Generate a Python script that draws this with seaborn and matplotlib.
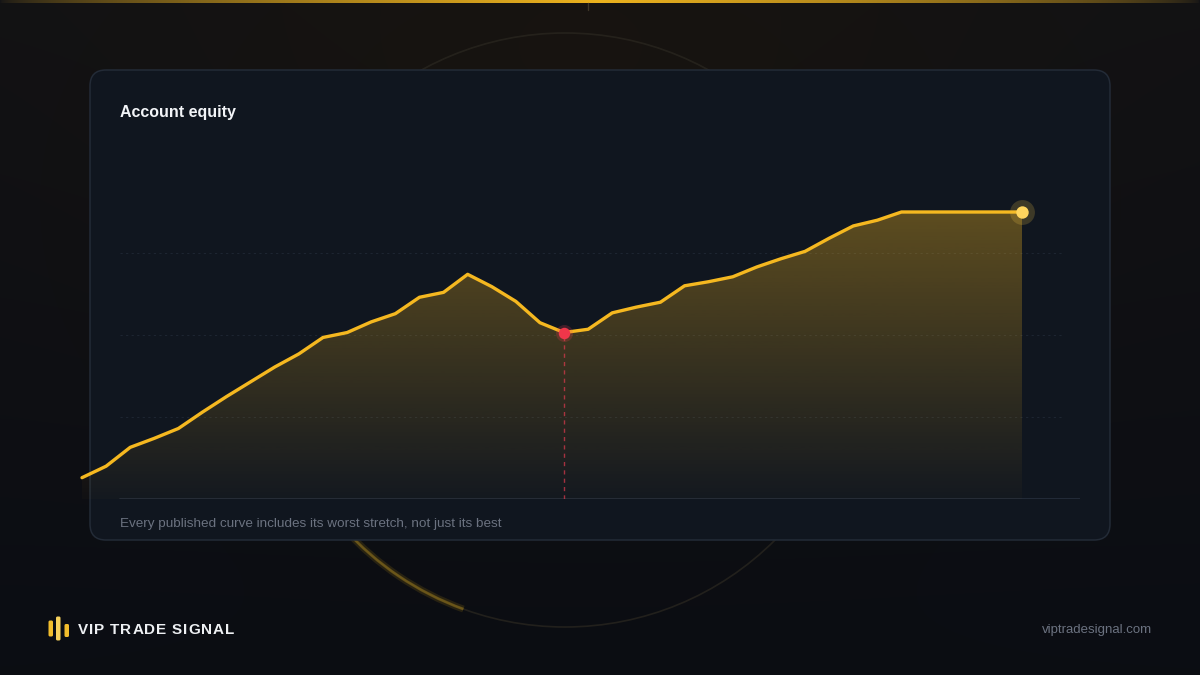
import numpy as np
import pandas as pd
import matplotlib.pyplot as plt
import seaborn as sns
from matplotlib.patches import FancyBboxPatch, Circle, Arc, Polygon

# equity curve (arbitrary units, baseline = 0)
steps = list(range(40))
equity = [2.6, 4.0, 6.3, 7.4, 8.6, 10.6, 12.5, 14.3, 16.1, 17.7,
          19.7, 20.3, 21.6, 22.6, 24.6, 25.2, 27.4, 25.9, 24.1, 21.5,
          20.3, 20.7, 22.7, 23.4, 24.0, 26.0, 26.5, 27.1, 28.3, 29.3,
          30.2, 31.8, 33.3, 34.0, 35.0, 35.0, 35.0, 35.0, 35.0, 35.0]
grid_levels = [10, 20, 30]
title = "Account equity"
caption = "Every published curve includes its worst stretch, not just its best"
brand = "VIP TRADE SIGNAL"
site = "viptradesignal.com"

GOLD = "#f5b820"

sns.set_theme(style="dark")
plt.rcParams['font.family'] = ['Liberation Sans', 'DejaVu Sans']

df = pd.DataFrame({"step": steps, "equity": equity})
eq = np.array(equity)
trough = int(np.argmin(eq - np.maximum.accumulate(eq)))

fig = plt.figure(figsize=(12, 6.75), dpi=100)
fig.patch.set_facecolor("#0c0f15")

# ---- background layer in pixel coords ----
bg = fig.add_axes([0, 0, 1, 1])
yy, xx = np.mgrid[0:675, 0:1200]
t = (yy / 675)[..., None]
img = np.array([18, 18, 20]) / 255 * (1 - t) + np.array([11, 13, 19]) / 255 * t
glow = np.exp(-(((xx - 580) / 420) ** 2 + ((yy - 120) / 280) ** 2))[..., None]
img = np.clip(img + glow * np.array([6, 2, -4]) / 255, 0, 1)
bg.imshow(img, extent=[0, 1200, 675, 0], aspect='auto', zorder=0)

# top gold strip
bar = np.linspace(-1, 1, 1200)
w = (np.clip(1 - np.abs(bar), 0, 1) ** 0.6)[None, :, None]
strip = np.array([20, 20, 22]) / 255 * (1 - w) + np.array([236, 178, 30]) / 255 * w
strip = np.repeat(strip, 4, axis=0)
bg.imshow(strip, extent=[0, 1200, 3.2, 0], aspect='auto', zorder=1)
bg.plot([588, 588], [3, 10], color="#3e3628", lw=1, zorder=1)

# decorative ring behind the card
bg.add_patch(Circle((565, 330), 297, fill=False, ec="#2a2720", lw=1.2, alpha=0.75, zorder=1))
bg.add_patch(Arc((565, 330), 594, 594, theta1=110, theta2=138, ec="#a88416", lw=5, alpha=0.18, zorder=1))
bg.add_patch(Arc((565, 330), 594, 594, theta1=110, theta2=138, ec="#c89c1c", lw=2, alpha=0.35, zorder=1))

# card
bg.add_patch(FancyBboxPatch((90, 70), 1020, 470, boxstyle="round,pad=0,rounding_size=16",
                            fc="#10161f", ec="#232b37", lw=1.1, zorder=2))

bg.text(120, 112, title, fontsize=11.5, weight='bold', color='#f2f4f7', va='center', zorder=3)
bg.text(120, 523.5, caption, fontsize=9.7, color='#6b7280', va='center', zorder=3)

# footer logo
for x0, y0, bw, bh, c in [(48.5, 620.5, 4.5, 16, "#f2bd2c"), (56, 616.5, 4.5, 24, "#f7d15c"),
                          (64.5, 624, 4.5, 13, "#f2bd2c")]:
    bg.add_patch(FancyBboxPatch((x0, y0), bw, bh, boxstyle="round,pad=0,rounding_size=1.5",
                                fc=c, ec="none", zorder=3))
bg.text(1152, 630, site, fontsize=9.5, color='#6b7280', va='center', ha='right', zorder=3)

bg.set_xlim(0, 1200)
bg.set_ylim(675, 0)
bg.axis('off')

# brand wordmark with a little letter spacing
fig.canvas.draw()
renderer = fig.canvas.get_renderer()
cx = 78.0
for ch in brand:
    if ch == " ":
        cx += 5.2
        continue
    tx = bg.text(cx, 630, ch, fontsize=11, weight='bold', color='#eef0f3', va='center', zorder=3)
    bb = tx.get_window_extent(renderer)
    cx += bb.width + 0.85

# ---- chart layer ----
ax = fig.add_axes([82 / 1200, (675 - 499) / 675, 998 / 1200, 328 / 675])
ax.set_facecolor("none")
for s in ax.spines.values():
    s.set_visible(False)
ax.set_xticks([])
ax.set_yticks([])
ax.grid(False)

gx0 = 38 / 998
for g in grid_levels:
    ax.axhline(g, xmin=gx0, xmax=(1063 - 82) / 998, color="#1d2531", lw=0.8, ls=(0, (2, 3)), zorder=1)
ax.axhline(0, xmin=gx0, xmax=1.0, color="#252d3a", lw=1.3, zorder=1)

# gradient fill under the curve
verts = [(steps[0], 0)] + list(zip(steps, equity)) + [(steps[-1], 0)]
poly = Polygon(verts, closed=True, fc="none", ec="none")
ax.add_patch(poly)
top = max(equity)
grad = np.zeros((256, 1, 4))
grad[..., 0], grad[..., 1], grad[..., 2] = 245 / 255, 184 / 255, 32 / 255
grad[..., 3] = np.linspace(0.34, 0.02, 256)[:, None]
im = ax.imshow(grad, extent=[steps[0], steps[-1], 0, top], aspect='auto', origin='upper', zorder=2)
im.set_clip_path(poly)

# drawdown marker line
ax.plot([steps[trough]] * 2, [0, equity[trough]], color="#e03a4e", lw=1, ls=(0, (3, 3)), alpha=0.7, zorder=3)

sns.lineplot(data=df, x="step", y="equity", color=GOLD, linewidth=2.4, ax=ax, zorder=4)
ln = ax.lines[-1]
ln.set_clip_on(False)
ln.set_solid_joinstyle('round')
ln.set_solid_capstyle('round')
ax.set_xlabel("")
ax.set_ylabel("")

ax.scatter([steps[trough]], [equity[trough]], s=150, color="#ef3b4f", alpha=0.22, lw=0, zorder=5)
ax.scatter([steps[trough]], [equity[trough]], s=68, color="#f0364a", lw=0, zorder=6)
ax.scatter([steps[-1]], [equity[-1]], s=320, color="#f5c84a", alpha=0.2, lw=0, zorder=5, clip_on=False)
ax.scatter([steps[-1]], [equity[-1]], s=80, color="#ffd55e", lw=0, zorder=6, clip_on=False)

ax.set_xlim(0, 39 + 58 / 24.1)
ax.set_ylim(0, 40)

fig.savefig("out.png", dpi=100, facecolor=fig.get_facecolor())
